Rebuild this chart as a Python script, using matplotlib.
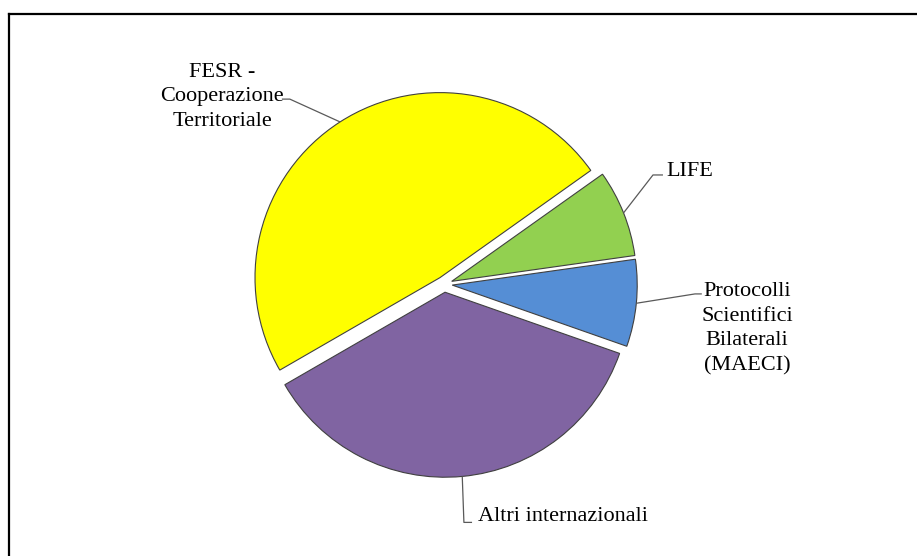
import numpy as np
import matplotlib.pyplot as plt
from matplotlib.lines import Line2D

# data
labels = ["FESR -\nCooperazione\nTerritoriale", "LIFE",
          "Protocolli\nScientifici\nBilaterali\n(MAECI)", "Altri internazionali"]
values = [48.5, 7.6, 7.6, 36.3]
colors = ["#FFFF00", "#92D050", "#558ED5", "#8064A2"]

# label layout (data units, pie radius = 1); y = baseline of last line
text_pos = [(-1.20, 0.856), (1.203, 0.585), (1.636, -0.464), (0.182, -1.280)]
text_ha = ["center", "left", "center", "left"]
elbow = [(-0.835, 1.001), (1.128, 0.591), (1.355, -0.052), (0.106, -1.287)]
tail = [(-0.878, 1.001), (1.182, 0.591), (1.392, -0.052), (0.150, -1.287)]

plt.rcParams['font.family'] = ['Liberation Serif', 'DejaVu Serif']

W, H = 917, 556
fig = plt.figure(figsize=(W/100, H/100), dpi=100, facecolor="white")
ax = fig.add_axes([0, 0, 1, 1])

wedges, _ = ax.pie(values, colors=colors, startangle=210, counterclock=False,
                   explode=[0.043]*4, radius=1.0,
                   wedgeprops=dict(edgecolor="#404040", linewidth=0.8))

# center at pixel (444.3, 284.3), radius 185 px
cx, cy, R = 444.3, 284.3, 185.0
ax.set_xlim(-cx/R, (W - cx)/R)
ax.set_ylim(-(H - cy)/R, cy/R)
ax.set_aspect('auto')
ax.set_axis_off()

for w, lab, tp, ha, el, tl in zip(wedges, labels, text_pos, text_ha, elbow, tail):
    mid = np.deg2rad((w.theta1 + w.theta2)/2)
    x0 = w.center[0] + w.r*np.cos(mid)
    y0 = w.center[1] + w.r*np.sin(mid)
    ax.plot([x0, el[0], tl[0]], [y0, el[1], tl[1]], color="#595959", lw=0.9,
            solid_capstyle='butt')
    ax.text(tp[0], tp[1], lab, ha=ha, va="baseline", multialignment="center",
            fontsize=16, color="black", linespacing=1.4)

# chart border (cropped at right and bottom)
fig.add_artist(Line2D([9/W, 1], [1 - 13.5/H, 1 - 13.5/H], color="black", lw=1.6))
fig.add_artist(Line2D([9/W, 9/W], [0, 1 - 13.5/H], color="black", lw=1.6))

fig.savefig("out.png", dpi=100, facecolor="white")
